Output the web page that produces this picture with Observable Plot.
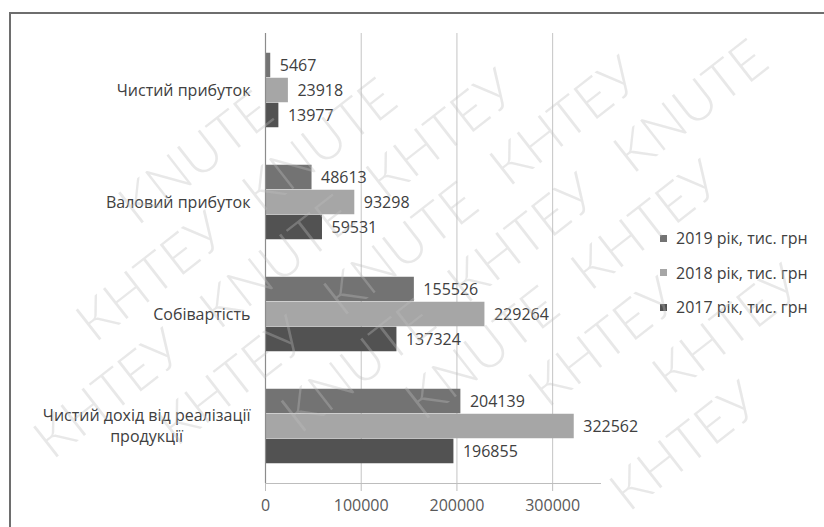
<!DOCTYPE html>
<html>
<head>
<meta charset="utf-8">
<script src="https://cdn.jsdelivr.net/npm/d3@7"></script>
<script src="https://cdn.jsdelivr.net/npm/@observablehq/plot@0.6"></script>
<style>
  html, body { margin: 0; padding: 0; background: #fff; }
  #wrap { position: relative; width: 824px; height: 527px; overflow: hidden; background: #fff; }
  #border { position: absolute; left: 9px; top: 12px; width: 900px; height: 600px; border: 2px solid #6e6e6e; box-sizing: border-box; }
  #chart { position: absolute; left: 0; top: 0; }
  #legend { position: absolute; left: 660px; top: 221px; font-family: "Open Sans", sans-serif; font-size: 16px; color: #404040; white-space: nowrap; }
  #legend .item { display: flex; align-items: center; height: 34.5px; }
  #legend .sw { width: 7px; height: 7px; margin-right: 9px; }
  #mark { position: absolute; left: 0; top: 0; pointer-events: none; }
</style>
</head>
<body>
<div id="wrap">
  <div id="border"></div>
  <div id="chart"></div>
  <div id="legend"></div>
  <svg id="mark" width="824" height="527"></svg>
</div>
<script>
// Financial indicators, thousand UAH
const categories = [
  "Чистий прибуток",
  "Валовий прибуток",
  "Собівартість",
  "Чистий дохід від реалізації продукції"
];
const categoryLines = [
  ["Чистий прибуток"],
  ["Валовий прибуток"],
  ["Собівартість"],
  ["Чистий дохід від реалізації", "продукції"]
];
const years = ["2019 рік, тис. грн", "2018 рік, тис. грн", "2017 рік, тис. грн"];
const values2019 = [5467, 48613, 155526, 204139];
const values2018 = [23918, 93298, 229264, 322562];
const values2017 = [13977, 59531, 137324, 196855];
const xTicks = [0, 100000, 200000, 300000];
const xMax = 350000;
const colors = ["#737373", "#a6a6a6", "#525252"];
const stampWords = ["KNUTE", "КНТЕУ"];

const series = [values2019, values2018, values2017];

const W = 824, H = 527;
const margin = {top: 33, right: 224, bottom: 44, left: 265};
const step = (H - margin.top - margin.bottom) / categories.length;
const barH = 25;
const font = "Open Sans";

// one bar mark + one label mark per year, stacked inside each category band
const yearMarks = years.flatMap((year, j) => {
  const rows = categories.map((c, i) => ({category: c, year, value: series[j][i]}));
  const top = (step - barH * years.length) / 2 + barH * j;
  return [
    Plot.barX(rows, {
      y: "category", x: "value", fill: colors[j],
      insetTop: top, insetBottom: step - top - barH
    }),
    Plot.text(rows, {
      y: "category", x: "value", text: d => String(d.value),
      textAnchor: "start", dx: 9, dy: (j - 1) * barH,
      fill: "#404040", fontSize: 16
    })
  ];
});

// category labels: right aligned, continuation lines centred under the first line
const ctx = document.createElement("canvas").getContext("2d");
ctx.font = `16px "${font}"`;
const labelMarks = categoryLines.flatMap((lines, i) => {
  const n = lines.length;
  const w0 = ctx.measureText(lines[0]).width;
  return lines.map((line, k) => Plot.text([categories[i]], {
    y: d => d, text: () => line,
    frameAnchor: "left",
    textAnchor: k === 0 ? "end" : "middle",
    dx: k === 0 ? -15 : -15 - w0 / 2,
    dy: (k - (n - 1) / 2) * 21,
    fill: "#404040", fontSize: 16
  }));
});

const chart = Plot.plot({
  width: W, height: H,
  marginTop: margin.top, marginRight: margin.right,
  marginBottom: margin.bottom, marginLeft: margin.left,
  style: {fontFamily: font, fontSize: "16px", color: "#404040", background: "transparent"},
  x: {domain: [0, xMax], label: null},
  y: {domain: categories, padding: 0, axis: null},
  marks: [
    Plot.gridX(xTicks.slice(1), {stroke: "#c4c4c4", strokeOpacity: 1}),
    Plot.frame({anchor: "bottom", stroke: "#bdbdbd"}),
    Plot.axisX(xTicks, {
      tickSize: 8, tickPadding: 8, stroke: "#bdbdbd",
      tickFormat: d3.format("d"), fill: "#595959", fontSize: 16, label: null
    }),
    ...yearMarks,
    Plot.ruleX([0], {stroke: "#8c8c8c", strokeWidth: 1.2}),
    ...labelMarks
  ]
});
document.getElementById("chart").appendChild(chart);

// legend
const legend = d3.select("#legend");
years.forEach((y, j) => {
  const item = legend.append("div").attr("class", "item");
  item.append("div").attr("class", "sw").style("background", colors[j]);
  item.append("span").text(y);
});

// diagonal "KNUTE / КНТЕУ" stamp; only whole words that fit on the page are placed
const stampSize = 54, angle = -38 * Math.PI / 180, rowGap = 66, wordGap = 34;
ctx.font = `300 ${stampSize}px Lato`;
const wordW = Math.max(...stampWords.map(w => ctx.measureText(w).width));
const pitch = wordW + wordGap;
const cap = stampSize * 0.72;
const cos = Math.cos(angle), sin = Math.sin(angle);
const toScreen = (u, v) => [W / 2 + u * cos - v * sin, H / 2 + u * sin + v * cos];
const stamp = d3.select("#mark");
for (let r = -8; r <= 8; r++) {
  for (let k = -8; k <= 8; k++) {
    const u = k * pitch + (r % 2 ? pitch / 2 : 0) - wordW / 2;
    const v = r * rowGap;
    const corners = [[u, v], [u + wordW, v], [u, v - cap], [u + wordW, v - cap]].map(([a, b]) => toScreen(a, b));
    if (!corners.every(([x, y]) => x > 2 && x < W - 2 && y > 2 && y < H - 2)) continue;
    const [x, y] = toScreen(u, v);
    stamp.append("text")
      .attr("transform", `translate(${x},${y}) rotate(-38)`)
      .attr("font-family", "Lato, sans-serif")
      .attr("font-weight", 300)
      .attr("font-size", stampSize)
      .attr("fill", "rgba(190,190,190,0.35)")
      .text(stampWords[((k + r) % 2 + 2) % 2]);
  }
}
</script>
</body>
</html>
